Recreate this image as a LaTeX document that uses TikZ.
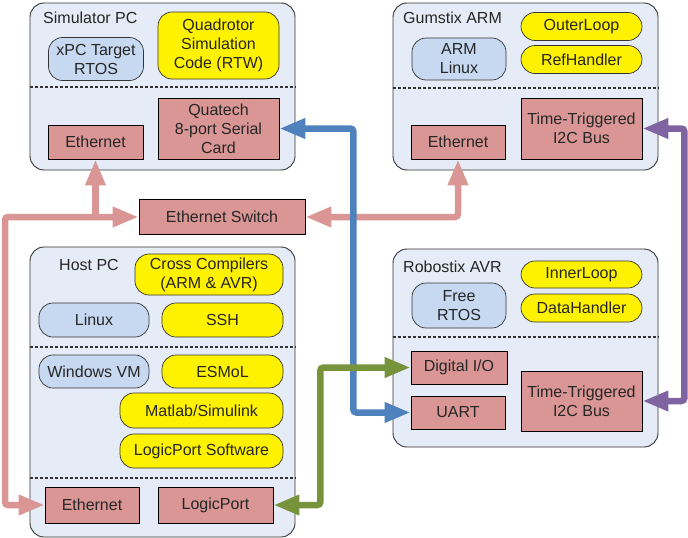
\documentclass[tikz,border=0pt]{standalone}
\usepackage{fontspec}
\setmainfont{Liberation Sans}
\usetikzlibrary{arrows.meta}

\definecolor{boxbg}{RGB}{230,236,247}
\definecolor{osblue}{RGB}{198,217,241}
\definecolor{hwred}{RGB}{217,150,148}
\definecolor{linkblue}{RGB}{79,129,189}
\definecolor{linkgreen}{RGB}{119,147,60}
\definecolor{linkpurple}{RGB}{128,100,162}

\begin{document}
\begin{tikzpicture}[x=1pt,y=-1pt,
    font=\fontsize{16}{19}\selectfont,
    every node/.style={text=black!85,align=center,inner sep=1pt},
    wh/.style 2 args={minimum width=#1pt,minimum height=#2pt},
    computer/.style={draw=black!80,line width=0.9pt,fill=boxbg,rounded corners=14pt},
    os/.style={draw=black!80,line width=0.7pt,fill=osblue,rounded corners=14pt},
    app/.style={draw=black!80,line width=0.7pt,fill=yellow,rounded corners=14pt},
    hw/.style={draw=black,line width=0.7pt,fill=hwred},
    divider/.style={draw=black!80,dash pattern=on 3pt off 2pt,line width=1.2pt},
    link/.style={line width=6.5pt,rounded corners=3pt,hwred},
    >={Triangle[length=26pt,width=19pt]}]
    \useasboundingbox (0, 0) rectangle (688, 538);

    \node[computer,wh={265}{167}] (simpc) at (162.5, 86.5) {};
    \node[anchor=west] (simlbl) at (42, 18) {Simulator PC};
    \node[os,wh={95}{43}] (xpc) at (96, 59) {xPC Target\\RTOS};
    \node[app,wh={121}{67}] (quad) at (218.5, 45.5) {Quadrotor\\Simulation\\Code (RTW)};
    \node[hw,wh={95}{34}] (simeth) at (95.5, 142) {Ethernet};
    \node[hw,wh={121}{61}] (quatech) at (218.5, 128.5) {Quatech\\8-port Serial\\Card};
    \draw[divider] (simpc.west |- 0,87) -- (simpc.east |- 0,87);

    \node[computer,wh={265}{167}] (gumstix) at (525.5, 86.5) {};
    \node[anchor=west] (gumlbl) at (402, 18) {Gumstix ARM};
    \node[os,wh={94}{42}] (armlinux) at (459, 59) {ARM\\Linux};
    \node[app,wh={121}{28}] (outer) at (581.5, 26.5) {OuterLoop};
    \node[app,wh={121}{28}] (refh) at (581.5, 59.5) {RefHandler};
    \node[hw,wh={94}{34}] (gumeth) at (458, 142) {Ethernet};
    \node[hw,wh={121}{61}] (gumi2c) at (581.5, 128.5) {Time-Triggered\\I2C Bus};
    \draw[divider] (gumstix.west |- 0,88) -- (gumstix.east |- 0,88);

    \node[hw,wh={166}{35}] (switch) at (222, 217) {Ethernet Switch};

    \node[computer,wh={265}{290}] (hostpc) at (162.5, 392) {};
    \node (hostlbl) at (89, 265) {Host PC};
    \node[app,wh={148}{41}] (cross) at (209, 274.5) {Cross Compilers\\(ARM \& AVR)};
    \node[os,wh={110}{34}] (linux) at (94, 320) {Linux};
    \node[app,wh={121}{34}] (ssh) at (222.5, 320) {SSH};
    \node[os,wh={110}{33}] (winvm) at (94, 371.5) {Windows VM};
    \node[app,wh={121}{33}] (esmol) at (222.5, 371.5) {ESMoL};
    \node[app,wh={163}{35}] (matlab) at (201.5, 410.5) {Matlab/Simulink};
    \node[app,wh={163}{34}] (lpsw) at (201.5, 451) {LogicPort Software};
    \node[hw,wh={94}{36}] (hosteth) at (92, 505) {Ethernet};
    \node[hw,wh={115}{36}] (logicport) at (215.5, 505) {LogicPort};
    \draw[divider] (hostpc.west |- 0,347) -- (hostpc.east |- 0,347);
    \draw[divider] (hostpc.west |- 0,478) -- (hostpc.east |- 0,478);

    \node[computer,wh={265}{198}] (robostix) at (525.5, 348) {};
    \node[anchor=west] (roblbl) at (402, 267) {Robostix AVR};
    \node[os,wh={94}{45}] (freertos) at (459, 305.5) {Free\\RTOS};
    \node[app,wh={121}{27}] (inner) at (581.5, 274.5) {InnerLoop};
    \node[app,wh={121}{28}] (datah) at (581.5, 308) {DataHandler};
    \node[hw,wh={96}{33}] (dio) at (459, 367.5) {Digital I/O};
    \node[hw,wh={94}{33}] (uart) at (458, 412.5) {UART};
    \node[hw,wh={121}{60}] (robi2c) at (581.5, 401) {Time-Triggered\\I2C Bus};
    \draw[divider] (robostix.west |- 0,337) -- (robostix.east |- 0,337);

    \coordinate (ebus) at (5, 217);
    \draw[link,<->] (hosteth.west) -| (ebus) -- (switch.west);
    \draw[link,->] (simeth.south |- switch.west) -- (simeth.south);
    \draw[link,<->] (switch.east) -| (gumeth.south);
    \draw[link,linkblue,<->] (quatech.east) -- ++(74, 0) |- (uart.west);
    \draw[link,linkgreen,<->] (logicport.east) -- ++(47, 0) |- (dio.west);
    \draw[link,linkpurple,<->] (gumi2c.east) -- ++(42, 0) |- (robi2c.east);
\end{tikzpicture}
\end{document}
